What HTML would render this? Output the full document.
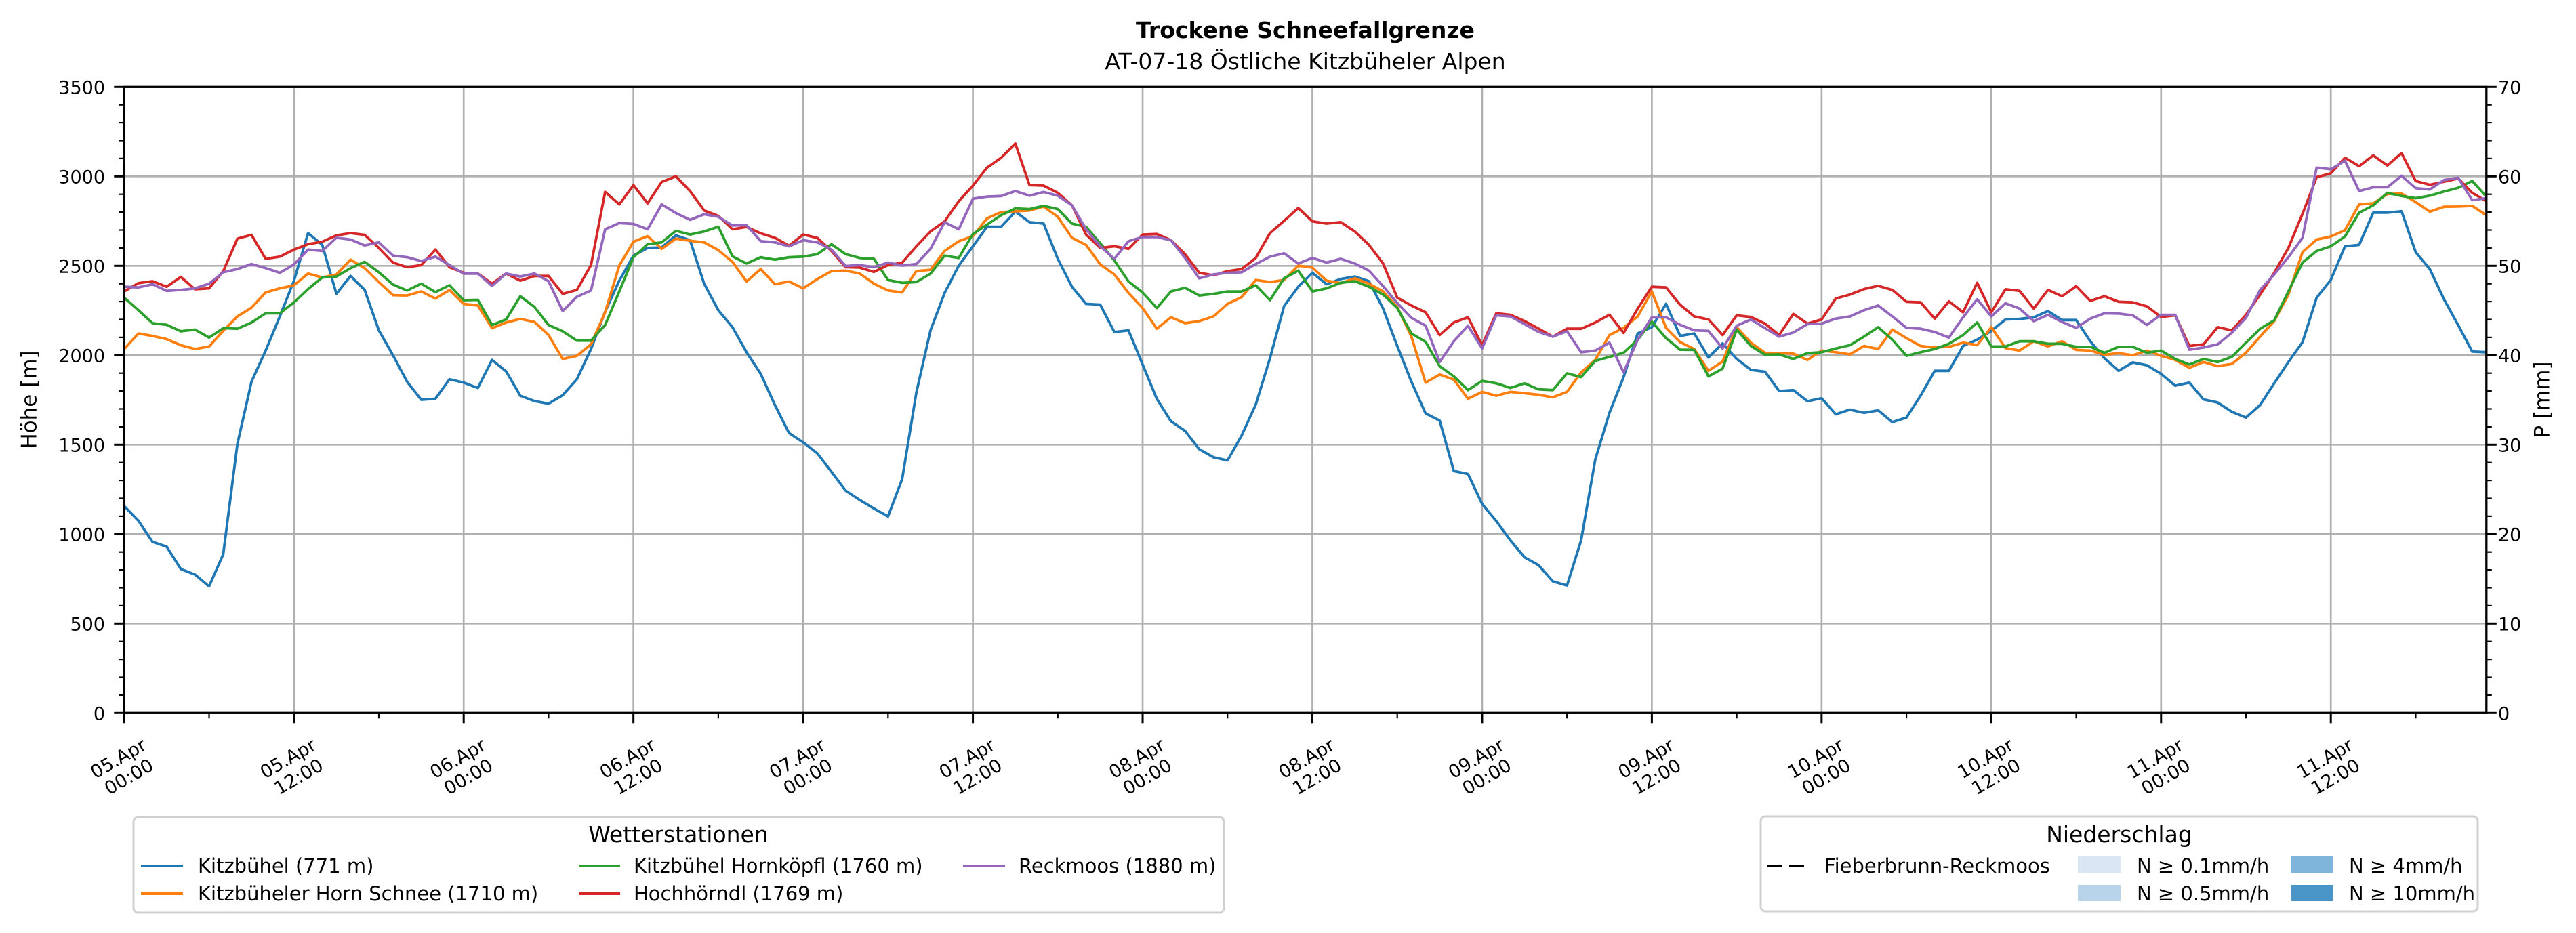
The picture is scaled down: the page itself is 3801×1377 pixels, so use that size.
<!DOCTYPE html>
<html><head><meta charset="utf-8"><style>
html,body{margin:0;padding:0;background:#fff}
svg{display:block;font-family:"DejaVu Sans","Liberation Sans",sans-serif}
</style></head><body>
<svg id="chart" width="3801" height="1377" viewBox="0 0 3801 1377" xmlns="http://www.w3.org/2000/svg">
<rect width="3801" height="1377" fill="#fff"/>
<text x="1926" y="56" text-anchor="middle" font-size="33" font-weight="bold">Trockene Schneefallgrenze</text>
<text x="1926" y="102" text-anchor="middle" font-size="33">AT-07-18 Östliche Kitzbüheler Alpen</text>
<g id="grid"></g>
<g id="series"></g>
<g id="axes"></g>
<text transform="translate(45,590) rotate(-90)" text-anchor="middle" dominant-baseline="middle" font-size="31">Höhe [m]</text>
<text transform="translate(3753,590) rotate(-90)" text-anchor="middle" dominant-baseline="middle" font-size="31">P [mm]</text>

<g>
<rect x="197" y="1206" width="1609" height="141" rx="7" fill="#fff" stroke="#d0d0d0" stroke-width="3"/>
<text x="1001" y="1243" text-anchor="middle" font-size="33">Wetterstationen</text>
<g><line x1="208" y1="1278" x2="270" y2="1278" stroke="#1f77b4" stroke-width="4"/><text x="292" y="1288" font-size="29">Kitzbühel (771 m)</text></g>
<g><line x1="208" y1="1319" x2="270" y2="1319" stroke="#ff7f0e" stroke-width="4"/><text x="292" y="1329" font-size="29">Kitzbüheler Horn Schnee (1710 m)</text></g>
<g><line x1="854" y1="1278" x2="915" y2="1278" stroke="#2ca02c" stroke-width="4"/><text x="935" y="1288" font-size="29">Kitzbühel Hornköpfl (1760 m)</text></g>
<g><line x1="854" y1="1319" x2="915" y2="1319" stroke="#d62728" stroke-width="4"/><text x="935" y="1329" font-size="29">Hochhörndl (1769 m)</text></g>
<g><line x1="1421" y1="1278" x2="1483" y2="1278" stroke="#9467bd" stroke-width="4"/><text x="1503" y="1288" font-size="29">Reckmoos (1880 m)</text></g>
</g>

<g>
<rect x="2598" y="1205" width="1058" height="140" rx="7" fill="#fff" stroke="#d0d0d0" stroke-width="3"/>
<text x="3127" y="1243" text-anchor="middle" font-size="33">Niederschlag</text>
<g><line x1="2608" y1="1278" x2="2666" y2="1278" stroke="#000" stroke-width="4" stroke-dasharray="22,10"/><text x="2692" y="1288" font-size="29">Fieberbrunn-Reckmoos</text></g>
<g><rect x="3066" y="1264" width="63" height="24" fill="#d9e7f5"/><text x="3153" y="1288" font-size="29">N ≥ 0.1mm/h</text></g>
<g><rect x="3066" y="1306" width="63" height="24" fill="#b8d4eb"/><text x="3153" y="1329" font-size="29">N ≥ 0.5mm/h</text></g>
<g><rect x="3381" y="1264" width="62" height="24" fill="#7fb5da"/><text x="3466" y="1288" font-size="29">N ≥ 4mm/h</text></g>
<g><rect x="3381" y="1306" width="62" height="24" fill="#4a95c8"/><text x="3466" y="1329" font-size="29">N ≥ 10mm/h</text></g>
</g>
</svg>
<script>
const kitzbuehel = [1157,1075,957,930,805,774,708,887,1504,1852,2026,2217,2417,2683,2617,2343,2443,2365,2139,2000,1852,1751,1757,1866,1847,1817,1974,1910,1774,
1744,1729,1777,1866,2035,2243,2417,2557,2600,2603,2670,2643,2400,2252,2157,2017,1896,1722,1565,1513,1452,1348,1243,1191,1143,1099,1308,1791,
2139,2348,2501,2609,2718,2718,2803,2744,2736,2539,2383,2287,2283,2130,2139,1948,1757,1631,1577,1475,1430,1412,1551,1725,1983,2275,2383,
2461,2397,2426,2440,2414,2261,2052,1852,1675,1635,1353,1336,1169,1073,965,870,826,736,713,965,1417,1678,1878,2122,2157,2287,2108,2122,
1988,2066,1979,1918,1908,1800,1805,1743,1760,1670,1696,1678,1692,1626,1652,1774,1913,1913,2052,2087,2136,2200,2203,2212,2247,2197,2197,2078,
1983,1913,1960,1944,1896,1830,1847,1753,1736,1684,1652,1722,1843,1962,2073,2322,2421,2609,2617,2797,2797,2805,2577,2482,2313,2169,2021,2017];
const hornSchnee = [2035,2122,2108,2090,2056,2035,2049,2136,2217,2266,2351,2374,2391,2457,2435,2452,2534,2487,2409,2336,2334,2357,2317,2365,2287,2278,2151,2183,2203,
2186,2113,1979,1997,2061,2240,2501,2635,2666,2595,2652,2640,2631,2588,2522,2412,2482,2397,2412,2374,2426,2470,2473,2457,2400,2362,2351,2470,
2478,2583,2638,2666,2765,2800,2805,2809,2831,2774,2657,2617,2508,2452,2348,2264,2148,2212,2179,2191,2217,2287,2325,2421,2409,2421,2501,
2490,2417,2403,2430,2400,2357,2270,2104,1847,1892,1864,1757,1795,1774,1795,1788,1779,1765,1795,1904,1974,2113,2153,2217,2357,2153,2073,2035,
1913,1965,2157,2070,2014,2012,2009,1974,2026,2017,2005,2052,2035,2143,2096,2052,2043,2047,2070,2057,2157,2040,2026,2078,2049,2078,2030,2026,
2003,2012,2000,2026,1997,1974,1930,1962,1939,1951,2014,2104,2191,2339,2577,2647,2664,2699,2843,2849,2901,2904,2856,2803,2830,2831,2835,2783];
const hornkoepfl = [2322,2252,2179,2170,2134,2143,2099,2151,2148,2183,2235,2235,2296,2370,2435,2440,2487,2522,2464,2395,2362,2400,2353,2391,2308,2310,2169,2200,2330,
2270,2169,2134,2082,2082,2169,2357,2548,2621,2631,2696,2675,2692,2718,2553,2513,2548,2534,2548,2551,2565,2621,2565,2544,2539,2421,2405,2409,
2456,2557,2544,2678,2730,2783,2821,2817,2835,2817,2736,2718,2626,2530,2412,2351,2264,2357,2377,2334,2343,2357,2357,2391,2308,2430,2473,
2357,2374,2405,2414,2383,2339,2264,2122,2075,1939,1882,1805,1857,1843,1817,1843,1809,1805,1899,1878,1969,1991,2014,2087,2188,2096,2031,2030,
1882,1925,2143,2052,2003,2005,1979,2012,2017,2038,2056,2104,2157,2087,1997,2017,2035,2064,2113,2183,2049,2049,2078,2078,2064,2064,2047,2047,
2014,2047,2047,2014,2026,1979,1948,1979,1962,1991,2070,2148,2195,2357,2518,2583,2609,2664,2797,2838,2908,2890,2878,2892,2915,2936,2974,2887];
const hochhoerndl = [2357,2403,2414,2383,2438,2369,2374,2470,2652,2673,2539,2551,2591,2621,2635,2670,2683,2673,2600,2518,2492,2504,2591,2492,2461,2457,2400,2457,2417,
2443,2443,2343,2365,2504,2913,2843,2951,2849,2969,3000,2918,2809,2779,2704,2717,2682,2657,2612,2675,2656,2583,2492,2490,2466,2504,2517,2609,
2692,2748,2861,2948,3049,3104,3183,2951,2948,2908,2838,2675,2600,2609,2595,2675,2678,2643,2565,2461,2447,2470,2482,2544,2683,2751,2823,
2748,2736,2744,2692,2617,2513,2322,2278,2240,2113,2183,2212,2056,2235,2226,2191,2148,2104,2148,2148,2183,2226,2125,2261,2383,2379,2282,2217,
2200,2113,2223,2214,2177,2113,2231,2177,2200,2317,2339,2370,2388,2365,2299,2296,2205,2301,2240,2405,2240,2369,2360,2261,2365,2330,2386,2304,
2330,2299,2296,2273,2214,2223,2052,2061,2157,2139,2226,2339,2461,2600,2791,2995,3017,3104,3057,3117,3061,3130,2974,2953,2970,2988,2908,2861];
const reckmoos = [2383,2379,2397,2360,2365,2374,2400,2464,2482,2510,2487,2461,2508,2591,2583,2657,2647,2614,2631,2557,2548,2527,2551,2504,2456,2457,2388,2457,2440,
2457,2414,2247,2327,2362,2704,2739,2734,2704,2843,2795,2757,2788,2774,2725,2727,2638,2631,2609,2643,2631,2591,2499,2504,2492,2518,2501,2510,
2595,2743,2704,2875,2887,2890,2918,2892,2913,2892,2838,2704,2609,2539,2638,2661,2661,2643,2544,2430,2452,2461,2464,2510,2551,2570,2513,
2544,2518,2539,2513,2473,2386,2292,2209,2165,1962,2078,2165,2038,2223,2217,2174,2130,2104,2134,2017,2026,2070,1904,2087,2212,2212,2170,2139,
2136,2038,2165,2200,2151,2104,2127,2174,2177,2205,2217,2252,2278,2217,2153,2148,2130,2099,2212,2313,2217,2290,2261,2191,2226,2186,2153,2205,
2235,2233,2223,2170,2226,2226,2031,2043,2061,2125,2209,2365,2452,2548,2657,3049,3040,3087,2918,2939,2939,3003,2934,2927,2979,2992,2867,2878];
const dateLabels = ["05.Apr","05.Apr","06.Apr","06.Apr","07.Apr","07.Apr","08.Apr","08.Apr","09.Apr","09.Apr","10.Apr","10.Apr","11.Apr","11.Apr"];
const timeLabels = ["00:00","12:00"];
const yTicks = [0,500,1000,1500,2000,2500,3000,3500];
const y2Ticks = [0,10,20,30,40,50,60,70];

const NS="http://www.w3.org/2000/svg";
const L=183.3,R=3668.8,T=128.3,B=1052.3,HMAX=167,YMAX=3500,Y2MAX=70;
const xS=h=>L+(R-L)*h/HMAX;
const yS=v=>B-(B-T)*v/YMAX;
const y2S=v=>B-(B-T)*v/Y2MAX;
function mk(tag,attrs,parent){const e=document.createElementNS(NS,tag);for(const k in attrs)e.setAttribute(k,attrs[k]);parent.appendChild(e);return e;}
const grid=document.getElementById('grid'),axes=document.getElementById('axes'),ser=document.getElementById('series');

yTicks.forEach(v=>{
  const g=mk('line',{x1:L,x2:R,y1:yS(v),y2:yS(v),stroke:'#b0b0b0','stroke-width':2.7},grid);
  
  
});
dateLabels.forEach((d,i)=>{
  const g=mk('line',{x1:xS(i*12),x2:xS(i*12),y1:T,y2:B,stroke:'#b0b0b0','stroke-width':2.7},grid);
  
  
});

const series=[["kitzbuehel",kitzbuehel,"#1f77b4"],["horn-schnee",hornSchnee,"#ff7f0e"],["hornkoepfl",hornkoepfl,"#2ca02c"],["hochhoerndl",hochhoerndl,"#d62728"],["reckmoos",reckmoos,"#9467bd"]];
series.forEach(([n,arr,c])=>{
  const p=mk('polyline',{points:arr.map((v,i)=>xS(i).toFixed(1)+","+yS(v).toFixed(1)).join(" "),fill:'none',stroke:c,'stroke-width':3.8,'stroke-linejoin':'round'},ser);
  
  
});

const fr=mk('rect',{x:L,y:T,width:R-L,height:B-T,fill:'none',stroke:'#000','stroke-width':3.3},axes);


for(let v=0;v<=YMAX;v+=100){mk('line',{x1:L-(v%500?8:15),x2:L,y1:yS(v),y2:yS(v),stroke:'#000','stroke-width':v%500?2.2:3},axes);}
for(let v=0;v<=Y2MAX;v+=2){mk('line',{x1:R,x2:R+(v%10?8:15),y1:y2S(v),y2:y2S(v),stroke:'#000','stroke-width':v%10?2.2:3},axes);}
for(let h=0;h<=HMAX;h+=6){mk('line',{x1:xS(h),x2:xS(h),y1:B,y2:B+(h%12?8:15),stroke:'#000','stroke-width':h%12?2.2:3},axes);}
yTicks.forEach(v=>{
  const t=mk('text',{x:155,y:yS(v)+10,'text-anchor':'end','font-size':27},axes);
  t.textContent=v;
  
  
});
y2Ticks.forEach(v=>{
  const t=mk('text',{x:3686,y:y2S(v)+10,'font-size':27},axes);
  t.textContent=v;
  
  
});
dateLabels.forEach((d,i)=>{
  const cx=xS(i*12)-2,cy=1131;
  const t=mk('text',{transform:`translate(${cx},${cy}) rotate(-30)`,'text-anchor':'middle','font-size':27},axes);
  
  
  const a=mk('tspan',{x:0,y:-4},t);a.textContent=d;
  const b=mk('tspan',{x:0,y:27},t);b.textContent=timeLabels[i%2];
});
</script>
</body></html>
